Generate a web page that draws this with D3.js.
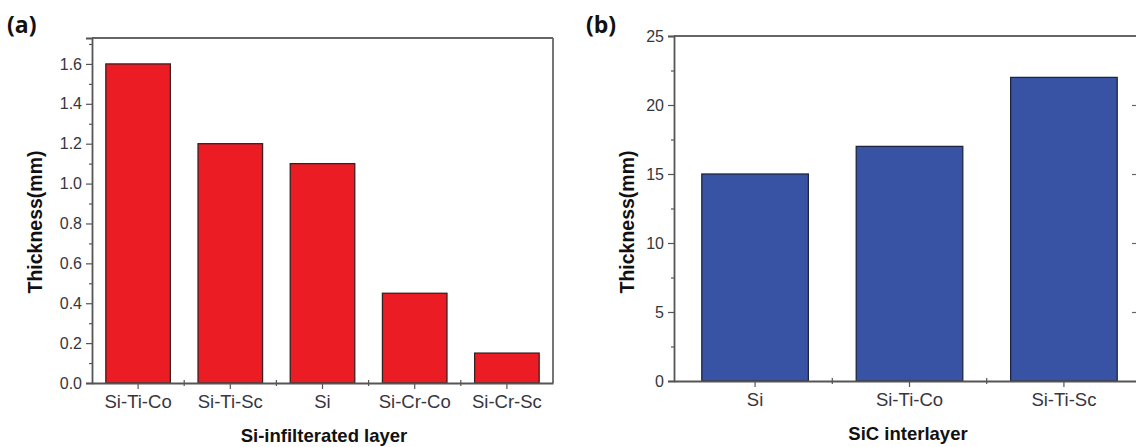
<!DOCTYPE html>
<html>
<head>
<meta charset="utf-8">
<script src="https://cdn.jsdelivr.net/npm/d3@7"></script>
<style>
  body { margin: 0; background: #fff; }
  svg { display: block; }
  .tick text { font-family: "Liberation Sans", Arial, sans-serif; fill: #363640; }
  .yax .tick text { font-size: 16px; }
  .xax .tick text { font-size: 18.5px; }
</style>
</head>
<body>
<div id="chart"></div>
<script>
// Data
const layersA = ["Si-Ti-Co", "Si-Ti-Sc", "Si", "Si-Cr-Co", "Si-Cr-Sc"];
const thicknessA = [1.6, 1.2, 1.1, 0.45, 0.15];
const ticksA = [0, 0.2, 0.4, 0.6, 0.8, 1.0, 1.2, 1.4, 1.6];

const layersB = ["Si", "Si-Ti-Co", "Si-Ti-Sc"];
const thicknessB = [15, 17, 22];
const ticksB = [0, 5, 10, 15, 20, 25];

const width = 1136;
const height = 447;

const svg = d3
  .select("#chart")
  .append("svg")
  .attr("width", width)
  .attr("height", height);

function panel(opts) {
  const x = d3
    .scaleBand()
    .domain(opts.cats)
    .range([opts.left, opts.right])
    .paddingInner(opts.padIn)
    .paddingOuter(opts.padOut);

  const y = d3
    .scaleLinear()
    .domain([0, opts.yMax])
    .range([opts.bottom, opts.top]);

  const g = svg.append("g");

  // bars
  g.selectAll("rect.bar")
    .data(opts.values)
    .join("rect")
    .attr("class", "bar")
    .attr("x", (d, i) => x(opts.cats[i]))
    .attr("y", (d) => y(d))
    .attr("width", x.bandwidth())
    .attr("height", (d) => y(0) - y(d))
    .attr("fill", opts.fill)
    .attr("stroke", opts.stroke)
    .attr("stroke-width", 1.3);

  // frame: top and right
  g.append("line")
    .attr("x1", opts.left).attr("x2", opts.right)
    .attr("y1", opts.top).attr("y2", opts.top)
    .attr("stroke", "#666").attr("stroke-width", 1.8);
  g.append("line")
    .attr("x1", opts.right).attr("x2", opts.right)
    .attr("y1", opts.top).attr("y2", opts.bottom)
    .attr("stroke", "#666").attr("stroke-width", 1.8);

  // right-axis ticks (inward), if wanted
  if (opts.rightTicks) {
    g.append("g")
      .attr("transform", `translate(${opts.right},0)`)
      .call(d3.axisLeft(y).tickValues(opts.ticks.slice(1, -1)).tickSize(opts.rightTickLen).tickFormat(""))
      .call((s) => s.select(".domain").remove())
      .call((s) => s.selectAll("line").attr("stroke", "#666").attr("stroke-width", 1.2));
  }

  // y minor ticks
  g.append("g")
    .attr("transform", `translate(${opts.left},0)`)
    .call(d3.axisLeft(y).tickValues(opts.minor).tickSize(3).tickFormat(""))
    .call((s) => s.select(".domain").remove())
    .call((s) => s.selectAll("line").attr("stroke", "#555").attr("stroke-width", 1.2));

  // y axis
  g.append("g")
    .attr("class", "yax")
    .attr("transform", `translate(${opts.left},0)`)
    .call(d3.axisLeft(y).tickValues(opts.ticks).tickSize(6).tickPadding(4).tickFormat(opts.fmt))
    .call((s) => s.select(".domain").attr("stroke", "#555").attr("stroke-width", 1.8))
    .call((s) => s.selectAll("line").attr("stroke", "#555").attr("stroke-width", 1.2));

  // x minor ticks at category boundaries
  const bounds = opts.cats.slice(1).map((c) => x(c) - (x.step() * opts.padIn) / 2);
  g.append("g")
    .attr("transform", `translate(0,${opts.bottom - 3})`)
    .selectAll("line")
    .data(bounds)
    .join("line")
    .attr("x1", (d) => d).attr("x2", (d) => d)
    .attr("y1", 0).attr("y2", 6)
    .attr("stroke", "#555").attr("stroke-width", 1.2);

  // x axis
  g.append("g")
    .attr("class", "xax")
    .attr("transform", `translate(0,${opts.bottom})`)
    .call(d3.axisBottom(x).tickSize(6).tickPadding(6).tickSizeOuter(0))
    .call((s) => s.select(".domain").attr("stroke", "#555").attr("stroke-width", 1.8))
    .call((s) => s.selectAll("line").attr("stroke", "#555").attr("stroke-width", 1.2));

  // axis titles
  g.append("text")
    .attr("x", opts.xTitleX)
    .attr("y", opts.bottom + 59)
    .attr("text-anchor", "middle")
    .style("font-family", "'Liberation Sans', Arial, sans-serif")
    .style("font-weight", "bold")
    .style("font-size", "18.5px")
    .style("fill", "#111")
    .text(opts.xTitle);

  g.append("text")
    .attr("transform", `translate(${opts.yTitleX},222) rotate(-90)`)
    .attr("text-anchor", "middle")
    .style("font-family", "'Liberation Sans', Arial, sans-serif")
    .style("font-weight", "bold")
    .style("font-size", "19.5px")
    .style("fill", "#111")
    .text("Thickness(mm)");

  // panel label
  svg.append("text")
    .attr("x", opts.labelX)
    .attr("y", 33)
    .style("font-family", "'Open Sans', 'Noto Sans', sans-serif")
    .style("font-weight", "bold")
    .style("font-size", "23px")
    .style("fill", "#111")
    .text(opts.label);
}

panel({
  cats: layersA,
  values: thicknessA,
  ticks: ticksA,
  minor: d3.range(0.1, 1.75, 0.2),
  fmt: d3.format(".1f"),
  yMax: 1.73,
  left: 92, right: 553, top: 38, bottom: 383,
  padIn: 0.3, padOut: 0.15,
  fill: "#ec1c24", stroke: "#3a2020",
  xTitle: "Si-infilterated layer",
  xTitleX: 324,
  yTitleX: 42,
  label: "(a)", labelX: 7,
  rightTicks: false,
});

panel({
  cats: layersB,
  values: thicknessB,
  ticks: ticksB,
  minor: d3.range(2.5, 25, 5),
  fmt: d3.format("d"),
  yMax: 25,
  left: 674, right: 1145, top: 36, bottom: 381,
  padIn: 0.31, padOut: 0.18,
  fill: "#3953a4", stroke: "#1e2540",
  xTitle: "SiC interlayer",
  xTitleX: 908,
  yTitleX: 634,
  label: "(b)", labelX: 586,
  rightTicks: true,
  rightTickLen: 13,
});
</script>
</body>
</html>
